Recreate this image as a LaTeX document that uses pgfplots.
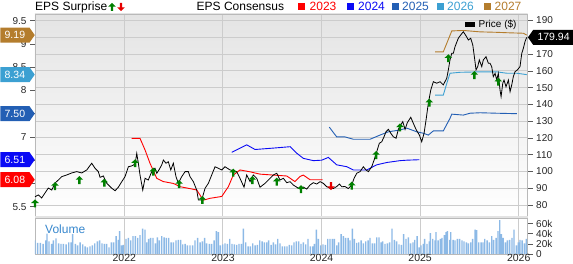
\documentclass[border=0pt]{standalone}
\usepackage{pgfplots}
\pgfplotsset{compat=1.18}
\usepackage{fontspec}
\setmainfont{Liberation Sans}
\usetikzlibrary{shapes.symbols}

\definecolor{c23}{RGB}{255,0,0}
\definecolor{c24}{RGB}{10,10,245}
\definecolor{c25}{RGB}{35,95,180}
\definecolor{c26}{RGB}{60,160,210}
\definecolor{c27}{RGB}{180,125,45}
\definecolor{gridc}{RGB}{204,204,204}
\definecolor{framec}{RGB}{185,185,185}
\definecolor{tickc}{RGB}{90,90,90}
\definecolor{volc}{RGB}{140,185,230}
\definecolor{surpup}{RGB}{0,128,0}
\definecolor{surpdn}{RGB}{230,0,0}
\definecolor{volt}{RGB}{55,135,205}
\definecolor{bgtop}{RGB}{228,228,228}

\pgfdeclareplotmark{uparr}{%
  \pgfpathmoveto{\pgfqpoint{0pt}{4pt}}%
  \pgfpathlineto{\pgfqpoint{3.8pt}{0.3pt}}%
  \pgfpathlineto{\pgfqpoint{1.2pt}{0.3pt}}%
  \pgfpathlineto{\pgfqpoint{1.2pt}{-4pt}}%
  \pgfpathlineto{\pgfqpoint{-1.2pt}{-4pt}}%
  \pgfpathlineto{\pgfqpoint{-1.2pt}{0.3pt}}%
  \pgfpathlineto{\pgfqpoint{-3.8pt}{0.3pt}}%
  \pgfpathclose\pgfusepathqfill}
\pgfdeclareplotmark{dnarr}{%
  \pgfpathmoveto{\pgfqpoint{0pt}{-4pt}}%
  \pgfpathlineto{\pgfqpoint{3.8pt}{-0.3pt}}%
  \pgfpathlineto{\pgfqpoint{1.2pt}{-0.3pt}}%
  \pgfpathlineto{\pgfqpoint{1.2pt}{4pt}}%
  \pgfpathlineto{\pgfqpoint{-1.2pt}{4pt}}%
  \pgfpathlineto{\pgfqpoint{-1.2pt}{-0.3pt}}%
  \pgfpathlineto{\pgfqpoint{-3.8pt}{-0.3pt}}%
  \pgfpathclose\pgfusepathqfill}

\tikzset{
  tag/.style={signal, signal pointer angle=110, text=white, minimum height=15pt,
    minimum width=34.5pt, inner xsep=2pt, inner ysep=0pt, font=\fontsize{10.5}{12}\selectfont},
}
\pgfplotsset{
  panel/.style={at={(35pt,47.5pt)}, anchor=south west, width=492.7pt, height=202.5pt,
    scale only axis, xmin=2021.094, xmax=2026.091},
  tick label style={font=\fontsize{10}{12}\selectfont, text=black!85},
  /pgf/number format/assume math mode=true,
}

\begin{document}
\begin{tikzpicture}[x=1pt,y=1pt]
\useasboundingbox (0,0) rectangle (573,264);

% ---- main panel: background, grid, price ticks
\begin{axis}[panel, ymin=73.14, ymax=193.88,
  ytick={80,90,100,110,120,130,140,150,160,170,180,190},
  yticklabels={80,90,100,110,120,130,140,150,160,170,,190}, ytick pos=right,
  xtick={2022,2023,2024,2025,2026}, xticklabels={},
  grid=major, major grid style={draw=gridc, line width=0.9pt},
  axis line style={draw=framec, line width=0.8pt},
  tick align=outside, major tick length=5pt,
  major tick style={draw=tickc, line width=0.6pt},
  xtick style={draw=none},
  axis background/.style={top color=bgtop, bottom color=white},
]
\end{axis}

% ---- EPS consensus lines (left axis)
\begin{axis}[panel, ymin=5.289, ymax=9.644,
  ytick={5.5,6,6.5,7,7.5,8,8.5,9,9.5},
  yticklabels={5.5,,,7,,8,8.5,9,9.5}, ytick pos=left,
  hide x axis, axis line style={draw=none},
  tick align=outside, major tick length=5pt,
  major tick style={draw=tickc, line width=0.6pt},
]
\addplot[c23, line width=0.9pt] table {
2022.075 6.97
2022.159 6.97
2022.210 6.72
2022.261 6.43
2022.329 6.11
2022.396 6.04
2022.497 6.00
2022.565 5.93
2022.734 5.86
2022.801 5.64
2022.869 5.68
2022.988 5.72
2023.055 5.93
2023.105 6.18
2023.173 6.29
2023.275 6.25
2023.376 6.20
2023.511 6.18
2023.647 6.16
2023.731 6.04
2023.782 6.15
2023.815 6.18
2023.883 6.08
2024.012 6.08
};
\addplot[c24, line width=0.9pt] table {
2023.089 6.67
2023.241 6.83
2023.326 6.73
2023.511 6.76
2023.681 6.79
2023.749 6.65
2023.815 6.54
2023.917 6.49
2024.002 6.50
2024.069 6.56
2024.154 6.40
2024.256 6.36
2024.323 6.29
2024.458 6.29
2024.560 6.40
2024.661 6.45
2024.796 6.49
2024.864 6.50
2024.992 6.51
};
\addplot[c25, line width=0.9pt] table {
2024.079 7.21
2024.154 7.00
2024.238 7.00
2024.323 6.95
2024.492 6.95
2024.593 7.04
2024.678 7.11
2024.796 7.15
2024.864 7.19
2024.966 7.11
2025.032 7.08
2025.083 7.04
2025.134 7.13
2025.235 7.13
2025.303 7.40
2025.321 7.49
2025.438 7.47
2025.506 7.51
2025.607 7.52
2025.777 7.51
2025.980 7.50
};
\addplot[c26, line width=0.9pt] table {
2025.151 7.90
2025.235 7.90
2025.270 8.15
2025.303 8.37
2025.405 8.39
2025.607 8.40
2025.777 8.40
2025.878 8.37
2025.980 8.37
2026.081 8.34
};
\addplot[c27, line width=0.9pt] table {
2025.151 8.83
2025.235 8.83
2025.321 9.28
2025.438 9.29
2025.607 9.26
2025.777 9.25
2025.895 9.24
2026.047 9.23
2026.081 9.19
};
\end{axis}

% ---- separator band
\fill[gray!22] (35,45.5) rectangle (527.7,47.5);

% ---- volume panel
\begin{axis}[at={(35pt,10pt)}, anchor=south west, width=492.7pt, height=35.5pt,
  scale only axis, xmin=2021.094, xmax=2026.091, ymin=0, ymax=70,
  ytick={0,20,40,60}, yticklabels={0,20k,40k,60k}, ytick pos=right,
  xtick={2022,2023,2024,2025,2026}, xticklabels={2022,2023,2024,2025,2026},
  xmajorgrids, major grid style={draw=gridc, line width=0.9pt},
  axis line style={draw=framec, line width=0.8pt},
  tick align=outside, major tick length=5pt,
  major tick style={draw=tickc, line width=0.6pt},
  xtick style={draw=none},
  xticklabel style={inner sep=0pt, yshift=5.5pt, font=\fontsize{10.5}{12}\selectfont},
  ybar, bar width=1.4pt,
]
\addplot[fill=volc, draw=none] table {
2021.094 27
2021.121 22
2021.148 22
2021.176 20
2021.203 27
2021.216 40
2021.236 25
2021.263 20
2021.280 27
2021.307 31
2021.334 21
2021.358 20
2021.382 20
2021.409 19
2021.436 23
2021.460 23
2021.476 39
2021.503 20
2021.527 17
2021.551 23
2021.578 19
2021.602 15
2021.625 13
2021.652 15
2021.676 17
2021.700 21
2021.727 25
2021.750 27
2021.774 21
2021.798 20
2021.821 20
2021.845 13
2021.869 23
2021.892 23
2021.916 35
2021.940 28
2021.953 45
2021.973 17
2021.990 18
2022.017 30
2022.041 32
2022.065 27
2022.088 35
2022.112 35
2022.136 32
2022.159 37
2022.186 50
2022.210 48
2022.227 23
2022.247 30
2022.267 32
2022.291 32
2022.315 21
2022.335 33
2022.355 27
2022.379 35
2022.403 33
2022.426 32
2022.450 32
2022.474 23
2022.497 23
2022.524 27
2022.548 28
2022.572 28
2022.592 19
2022.616 20
2022.639 17
2022.666 17
2022.693 17
2022.717 27
2022.744 32
2022.768 23
2022.791 25
2022.815 32
2022.835 21
2022.862 20
2022.886 20
2022.910 27
2022.933 45
2022.954 43
2022.974 17
2022.998 19
2023.021 21
2023.045 20
2023.069 30
2023.092 20
2023.116 19
2023.140 18
2023.163 20
2023.187 20
2023.207 50
2023.231 23
2023.255 15
2023.278 15
2023.302 21
2023.326 17
2023.349 18
2023.373 27
2023.397 25
2023.420 23
2023.444 23
2023.464 27
2023.488 18
2023.512 23
2023.535 19
2023.556 30
2023.579 21
2023.603 15
2023.627 15
2023.650 15
2023.674 18
2023.698 17
2023.721 23
2023.745 25
2023.769 25
2023.792 20
2023.816 23
2023.840 19
2023.863 30
2023.887 15
2023.911 15
2023.927 20
2023.948 48
2023.968 30
2023.992 17
2024.015 19
2024.039 18
2024.063 30
2024.086 30
2024.110 30
2024.130 30
2024.154 17
2024.174 23
2024.198 39
2024.222 35
2024.245 32
2024.269 32
2024.289 27
2024.313 50
2024.333 30
2024.357 22
2024.377 23
2024.401 27
2024.424 21
2024.448 25
2024.472 27
2024.492 32
2024.516 21
2024.539 21
2024.560 33
2024.583 33
2024.604 23
2024.620 25
2024.644 20
2024.668 21
2024.691 23
2024.715 50
2024.739 28
2024.762 25
2024.786 19
2024.810 18
2024.833 39
2024.857 30
2024.881 33
2024.904 21
2024.928 23
2024.945 28
2024.969 35
2024.989 13
2025.009 17
2025.033 20
2025.046 30
2025.070 20
2025.094 25
2025.104 41
2025.128 30
2025.151 27
2025.161 43
2025.182 27
2025.205 30
2025.222 32
2025.246 37
2025.263 43
2025.276 45
2025.300 28
2025.310 43
2025.334 28
2025.354 27
2025.378 30
2025.401 30
2025.425 27
2025.445 25
2025.469 23
2025.489 21
2025.513 23
2025.533 30
2025.557 48
2025.574 47
2025.594 23
2025.618 23
2025.638 23
2025.655 30
2025.679 27
2025.702 23
2025.726 35
2025.746 28
2025.770 32
2025.790 45
2025.807 67
2025.824 39
2025.841 32
2025.865 23
2025.885 27
2025.908 28
2025.932 32
2025.952 48
2025.976 17
2025.996 23
2026.013 28
2026.034 27
2026.057 21
2026.078 30
};
\end{axis}

% ---- price line, surprise arrows, price tag
\begin{axis}[panel, ymin=73.14, ymax=193.88, hide axis, clip=false]
\addplot[black, line width=0.8pt] table {
2021.094 84.9
2021.128 86.0
2021.162 84.2
2021.196 87.2
2021.229 90.1
2021.264 88.9
2021.297 93.1
2021.331 94.9
2021.365 96.9
2021.416 97.9
2021.467 99.1
2021.517 99.9
2021.568 99.1
2021.619 100.9
2021.669 104.9
2021.703 101.9
2021.736 99.9
2021.754 96.5
2021.787 97.3
2021.822 92.9
2021.872 90.0
2021.906 88.5
2021.939 90.6
2021.974 93.9
2022.007 96.9
2022.041 102.8
2022.075 103.3
2022.109 104.4
2022.126 110.8
2022.142 104.9
2022.159 97.9
2022.187 88.9
2022.210 95.9
2022.243 94.9
2022.278 99.9
2022.311 101.9
2022.329 98.9
2022.355 101.3
2022.379 103.9
2022.396 106.8
2022.423 104.9
2022.446 105.8
2022.471 100.9
2022.497 104.9
2022.524 96.9
2022.548 92.9
2022.582 96.9
2022.616 99.9
2022.649 99.9
2022.666 96.9
2022.700 93.9
2022.734 88.9
2022.751 83.0
2022.785 83.0
2022.819 90.0
2022.852 92.9
2022.886 97.9
2022.920 102.8
2022.953 101.9
2022.988 100.9
2023.021 102.8
2023.072 100.9
2023.105 100.5
2023.140 99.9
2023.173 95.9
2023.214 90.6
2023.241 97.9
2023.275 93.9
2023.308 97.9
2023.343 95.9
2023.376 90.6
2023.427 92.9
2023.478 95.9
2023.511 97.9
2023.546 98.9
2023.579 94.9
2023.613 95.9
2023.647 93.3
2023.681 93.9
2023.714 91.9
2023.749 90.6
2023.782 89.5
2023.815 90.7
2023.850 89.5
2023.883 91.9
2023.917 93.3
2023.951 92.5
2023.985 93.9
2024.018 92.9
2024.053 90.9
2024.086 90.0
2024.120 89.8
2024.154 91.0
2024.181 92.5
2024.205 90.9
2024.238 91.0
2024.272 89.8
2024.306 91.9
2024.330 95.9
2024.357 98.9
2024.391 99.9
2024.424 102.8
2024.451 100.9
2024.475 99.9
2024.509 102.8
2024.533 106.8
2024.560 111.8
2024.586 116.8
2024.611 117.7
2024.634 120.7
2024.654 123.7
2024.678 125.1
2024.702 122.8
2024.728 120.7
2024.756 119.8
2024.779 125.1
2024.803 127.7
2024.824 129.7
2024.847 125.1
2024.870 129.1
2024.905 132.3
2024.931 128.7
2024.958 125.1
2024.992 121.7
2025.016 117.7
2025.040 122.8
2025.060 130.7
2025.083 140.6
2025.108 148.6
2025.134 153.5
2025.168 152.6
2025.202 153.5
2025.235 151.6
2025.270 155.6
2025.286 160.5
2025.303 166.5
2025.321 170.5
2025.337 170.5
2025.354 174.4
2025.387 179.4
2025.412 181.4
2025.438 183.3
2025.466 180.8
2025.489 178.4
2025.513 179.4
2025.534 175.4
2025.550 168.4
2025.567 160.5
2025.584 162.5
2025.600 166.5
2025.625 162.5
2025.641 166.5
2025.668 168.4
2025.692 164.5
2025.709 164.5
2025.726 162.5
2025.742 156.5
2025.760 158.5
2025.777 154.5
2025.793 158.5
2025.810 148.6
2025.821 144.6
2025.838 152.6
2025.851 154.5
2025.871 150.5
2025.895 154.5
2025.912 147.6
2025.929 151.6
2025.945 156.5
2025.963 159.5
2025.986 160.5
2026.013 162.5
2026.031 170.5
2026.047 173.4
2026.064 177.5
2026.081 179.94
};
\addplot[only marks, mark=uparr, color=surpup] table {
2021.094 81.0
2021.297 91.3
2021.544 94.9
2021.797 93.3
2022.109 104.9
2022.294 99.9
2022.555 92.5
2022.791 83.0
2023.105 99.3
2023.298 94.9
2023.546 93.9
2023.792 89.4
2024.306 91.5
2024.553 109.8
2024.796 126.3
2025.093 141.0
2025.286 167.5
2025.550 157.5
2025.793 153.5
};
\addplot[only marks, mark=dnarr, color=surpdn] table {
2024.096 91.3
};
\node[tag, signal to=west, fill=black, anchor=west, minimum width=46pt] at (axis cs:2026.091,179.94) {179.94};
\end{axis}

% ---- EPS value tags
\begin{axis}[panel, ymin=5.289, ymax=9.644, hide axis, clip=false]
\node[tag, signal to=east, fill=c27, anchor=east] at (axis cs:2021.094,9.19) {9.19};
\node[tag, signal to=east, fill=c26, anchor=east] at (axis cs:2021.094,8.34) {8.34};
\node[tag, signal to=east, fill=c25, anchor=east] at (axis cs:2021.094,7.50) {7.50};
\node[tag, signal to=east, fill=c24, anchor=east] at (axis cs:2021.094,6.51) {6.51};
\node[tag, signal to=east, fill=c23, anchor=east] at (axis cs:2021.094,6.08) {6.08};
\end{axis}

% ---- legends and labels
\node[anchor=base west, inner sep=0pt, font=\fontsize{12}{14}\selectfont] at (35,253) {EPS Surprise};
\fill[surpup] (112,261)--(115.8,257.3)--(113.2,257.3)--(113.2,253)--(110.8,253)--(110.8,257.3)--(108.2,257.3)--cycle;
\fill[surpdn] (121,253)--(124.8,256.7)--(122.2,256.7)--(122.2,261)--(119.8,261)--(119.8,256.7)--(117.2,256.7)--cycle;
\node[anchor=base west, inner sep=0pt, font=\fontsize{12}{14}\selectfont] at (196.5,253) {EPS Consensus};
\fill[c23] (298,253.5) rectangle (305,260.5);
\node[anchor=base west, inner sep=0pt, text=c23, font=\fontsize{12}{14}\selectfont] at (309.5,253) {2023};
\fill[c24] (346.5,253.5) rectangle (353.5,260.5);
\node[anchor=base west, inner sep=0pt, text=c24, font=\fontsize{12}{14}\selectfont] at (358,253) {2024};
\fill[c25] (391.5,253.5) rectangle (398.5,260.5);
\node[anchor=base west, inner sep=0pt, text=c25, font=\fontsize{12}{14}\selectfont] at (402,253) {2025};
\fill[c26] (436.5,253.5) rectangle (443.5,260.5);
\node[anchor=base west, inner sep=0pt, text=c26, font=\fontsize{12}{14}\selectfont] at (447,253) {2026};
\fill[c27] (484,253.5) rectangle (491,260.5);
\node[anchor=base west, inner sep=0pt, text=c27, font=\fontsize{12}{14}\selectfont] at (494.5,253) {2027};

\fill[black] (465,236.5) rectangle (475,241.5);
\node[anchor=west, inner sep=0pt, font=\fontsize{10}{12}\selectfont] at (478.5,239) {Price (\$)};
\node[anchor=west, inner sep=0pt, text=volt, font=\fontsize{12}{14}\selectfont] at (45,35) {Volume};
\end{tikzpicture}
\end{document}
